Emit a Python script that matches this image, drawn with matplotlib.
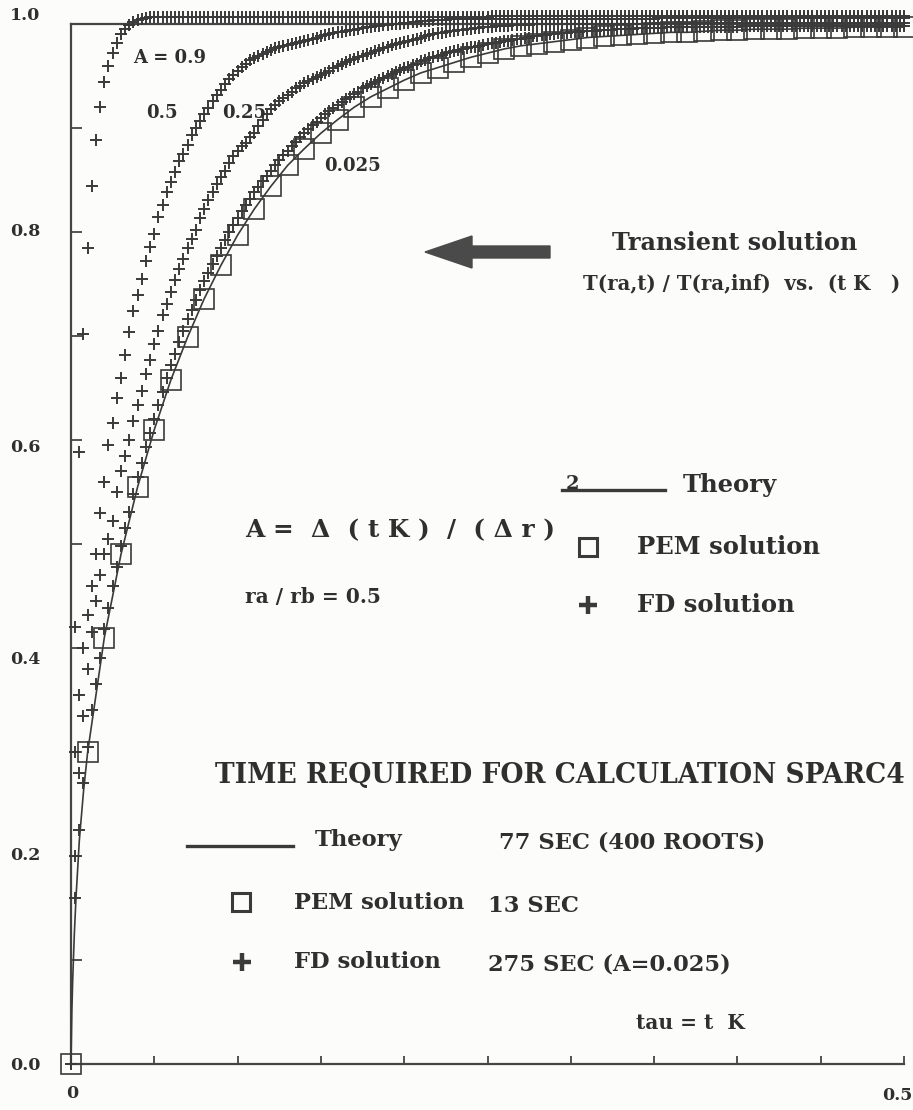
import matplotlib
matplotlib.use("Agg")
import matplotlib.pyplot as plt
import numpy as np
from matplotlib.lines import Line2D
from matplotlib.patches import Polygon

# ---------------- data ----------------
# PEM solution (squares) and Theory (line), tau = t*kappa
pem_tau = [0.00, 0.01, 0.02, 0.03, 0.04, 0.05, 0.06, 0.07, 0.08, 0.09,
           0.10, 0.11, 0.12, 0.13, 0.14, 0.15, 0.16, 0.17, 0.18, 0.19,
           0.20, 0.21, 0.22, 0.23, 0.24, 0.25, 0.26, 0.27, 0.28, 0.29,
           0.30, 0.31, 0.32, 0.33, 0.34, 0.35, 0.36, 0.37, 0.38, 0.39,
           0.40, 0.41, 0.42, 0.43, 0.44, 0.45, 0.46, 0.47, 0.48, 0.49, 0.50]
pem_val = [0.000, 0.300, 0.410, 0.490, 0.555, 0.610, 0.658, 0.699, 0.736, 0.768,
           0.797, 0.822, 0.844, 0.864, 0.880, 0.895, 0.908, 0.920, 0.930, 0.938,
           0.946, 0.953, 0.958, 0.963, 0.968, 0.972, 0.976, 0.979, 0.981, 0.983,
           0.985, 0.987, 0.988, 0.989, 0.990, 0.991, 0.992, 0.992, 0.993, 0.994,
           0.994, 0.995, 0.995, 0.995, 0.996, 0.996, 0.996, 0.997, 0.997, 0.997, 0.997]
theory_tau_early = [0.0, 0.0005, 0.001, 0.002, 0.003, 0.005, 0.0075]
theory_val_early = [0.0, 0.050, 0.080, 0.125, 0.160, 0.215, 0.262]

# FD solutions, output every 0.0025 in tau (values x 1000)
fd_tau = np.linspace(0.0, 0.5, 201)
fd_A09 = [0, 420, 588, 702, 785, 844, 888, 920, 944, 960, 972, 982, 990, 995, 999, 1002, 1004, 1005, 1006, 1007,
          1007, 1007, 1007, 1007, 1007, 1007, 1007, 1007, 1007, 1007, 1007, 1007, 1007, 1007, 1007, 1007, 1007, 1007, 1007, 1007,
          1007, 1007, 1007, 1007, 1007, 1007, 1007, 1007, 1007, 1007, 1007, 1007, 1007, 1007, 1007, 1007, 1007, 1007, 1007, 1007,
          1007, 1007, 1007, 1007, 1007, 1007, 1007, 1007, 1007, 1007, 1007, 1007, 1007, 1007, 1007, 1007, 1007, 1007, 1007, 1007,
          1007, 1007, 1007, 1007, 1007, 1007, 1007, 1007, 1007, 1007, 1007, 1007, 1007, 1007, 1007, 1007, 1007, 1007, 1007, 1007,
          1007, 1008, 1008, 1008, 1008, 1008, 1008, 1008, 1008, 1008, 1008, 1008, 1008, 1008, 1008, 1008, 1008, 1008, 1008, 1008,
          1008, 1008, 1008, 1008, 1008, 1008, 1008, 1008, 1008, 1008, 1008, 1008, 1008, 1008, 1008, 1008, 1008, 1008, 1008, 1008,
          1008, 1008, 1008, 1008, 1008, 1008, 1008, 1008, 1008, 1008, 1008, 1008, 1008, 1008, 1008, 1008, 1008, 1008, 1008, 1008,
          1008, 1008, 1008, 1008, 1008, 1008, 1008, 1008, 1008, 1008, 1008, 1008, 1008, 1008, 1008, 1008, 1008, 1008, 1008, 1008,
          1008, 1008, 1008, 1008, 1008, 1008, 1008, 1008, 1008, 1008, 1008, 1008, 1008, 1008, 1008, 1008, 1008, 1008, 1008, 1008,
          1008]
fd_A05 = [0, 300, 355, 400, 432, 460, 490, 530, 560, 595, 616, 640, 660, 682, 704, 724, 739, 755, 772, 786,
          798, 814, 826, 838, 848, 858, 868, 875, 884, 893, 900, 907, 913, 919, 926, 932, 937, 942, 947, 951,
          955, 959, 962, 965, 967, 969, 971, 973, 975, 977, 978, 979, 980, 981, 982, 983, 984, 985, 986, 987,
          988, 989, 990, 991, 992, 992, 993, 994, 994, 995, 996, 997, 997, 998, 998, 999, 999, 1000, 1000, 1000,
          1001, 1001, 1002, 1002, 1003, 1003, 1003, 1004, 1004, 1004, 1004, 1005, 1005, 1005, 1005, 1005, 1005, 1005, 1005, 1005,
          1005, 1005, 1005, 1005, 1005, 1005, 1005, 1005, 1005, 1005, 1005, 1005, 1005, 1005, 1005, 1005, 1005, 1005, 1005, 1005,
          1005, 1005, 1005, 1005, 1005, 1005, 1005, 1005, 1005, 1005, 1005, 1005, 1005, 1005, 1005, 1005, 1005, 1005, 1005, 1005,
          1005, 1006, 1006, 1006, 1006, 1006, 1006, 1006, 1006, 1006, 1006, 1006, 1006, 1006, 1006, 1006, 1006, 1006, 1006, 1006,
          1006, 1006, 1006, 1006, 1006, 1006, 1006, 1006, 1006, 1006, 1006, 1006, 1006, 1006, 1006, 1006, 1006, 1006, 1006, 1006,
          1006, 1006, 1006, 1006, 1006, 1006, 1006, 1006, 1006, 1006, 1006, 1006, 1006, 1006, 1006, 1006, 1006, 1006, 1006, 1006,
          1006]
fd_A025 = [0, 200, 280, 335, 380, 415, 445, 470, 490, 505, 522, 550, 570, 585, 600, 618, 634, 647, 663, 677,
           692, 705, 720, 731, 742, 754, 764, 774, 785, 793, 802, 813, 822, 831, 838, 846, 853, 859, 866, 873,
           878, 883, 886, 891, 895, 902, 908, 913, 918, 922, 926, 929, 932, 935, 938, 940, 943, 945, 947, 949,
           951, 953, 955, 958, 960, 962, 963, 965, 966, 968, 969, 971, 972, 974, 975, 977, 978, 980, 981, 982,
           983, 984, 985, 986, 987, 988, 989, 990, 991, 991, 992, 993, 993, 994, 994, 995, 995, 996, 996, 997,
           997, 997, 998, 998, 998, 998, 999, 999, 999, 999, 999, 1000, 1000, 1000, 1000, 1000, 1000, 1000, 1000, 1000,
           1000, 1000, 1000, 1000, 1000, 1000, 1000, 1000, 1000, 1000, 1000, 1000, 1000, 1000, 1000, 1000, 1000, 1000, 1000, 1000,
           1000, 1001, 1001, 1001, 1001, 1001, 1001, 1001, 1001, 1001, 1001, 1001, 1001, 1001, 1001, 1001, 1001, 1001, 1001, 1001,
           1001, 1001, 1001, 1001, 1001, 1001, 1001, 1001, 1001, 1001, 1001, 1001, 1001, 1001, 1001, 1001, 1001, 1001, 1001, 1001,
           1001, 1001, 1001, 1001, 1001, 1001, 1001, 1001, 1001, 1001, 1001, 1001, 1001, 1001, 1001, 1001, 1001, 1001, 1001, 1001,
           1001]
fd_A0025 = [0, 160, 225, 270, 305, 340, 365, 390, 418, 438, 460, 478, 498, 515, 531, 548, 564, 578, 593, 607,
            620, 634, 646, 660, 672, 683, 694, 705, 716, 725, 735, 744, 753, 761, 769, 777, 785, 792, 800, 807,
            813, 820, 826, 832, 838, 843, 849, 854, 859, 864, 869, 874, 878, 883, 887, 891, 895, 899, 903, 906,
            910, 913, 916, 919, 922, 925, 928, 930, 933, 935, 938, 940, 942, 944, 946, 948, 950, 952, 954, 956,
            958, 959, 961, 962, 964, 965, 967, 968, 969, 970, 972, 973, 974, 975, 976, 977, 978, 978, 979, 980,
            981, 982, 982, 983, 984, 984, 985, 986, 986, 987, 987, 988, 988, 989, 989, 990, 990, 991, 991, 991,
            992, 992, 992, 993, 993, 993, 993, 994, 994, 994, 994, 995, 995, 995, 995, 995, 996, 996, 996, 996,
            996, 996, 996, 997, 997, 997, 997, 997, 997, 997, 997, 997, 997, 997, 997, 997, 997, 997, 997, 997,
            997, 998, 998, 998, 998, 998, 998, 998, 998, 998, 998, 998, 998, 998, 998, 998, 998, 998, 998, 998,
            998, 998, 998, 998, 998, 998, 998, 998, 998, 998, 998, 998, 998, 998, 998, 998, 998, 998, 998, 998,
            998]

fd_series = [("0.9", fd_A09), ("0.5", fd_A05), ("0.25", fd_A025), ("0.025", fd_A0025)]

# ---------------- styling ----------------
W, H = 913, 1110
INK = "#3a3a3a"
TXT = "#2f2f2f"
BG = "#fcfcfb"
FONT = "DejaVu Serif"
KAPPA = "\u039a"

fig = plt.figure(figsize=(W / 100, H / 100), dpi=100, facecolor=BG)
renderer = fig.canvas.get_renderer()

def fx(px):
    return px / W

def fy(py):
    return 1 - py / H

ax = fig.add_axes([fx(71), fy(1064), fx(904) - fx(71), fy(24) - fy(1064)])
ax.set_facecolor("none")
ax.set_xlim(0, 0.5)
ax.set_ylim(0, 1.0)

# theory line
theory_tau = theory_tau_early + pem_tau[1:]
theory_val = theory_val_early + pem_val[1:]
ax.plot(theory_tau, theory_val, color=INK, lw=1.2, zorder=3, clip_on=False)

# PEM squares
ax.plot(pem_tau, pem_val, linestyle="none", marker="s", ms=14.5, mfc="none",
        mec=INK, mew=1.2, zorder=4, clip_on=False)

# FD crosses
for name, vals in fd_series:
    ax.plot(fd_tau, np.array(vals) / 1000.0, linestyle="none", marker="+",
            ms=8.5, mew=1.4, color=INK, zorder=5, clip_on=False)

# spines / ticks
for s in ["left", "bottom", "top"]:
    ax.spines[s].set_color("#454545")
    ax.spines[s].set_linewidth(1.6)
ax.spines["right"].set_visible(False)
ax.set_yticks(np.arange(0, 1.01, 0.1))
ax.set_xticks(np.arange(0, 0.501, 0.05))
ax.tick_params(axis="y", direction="in", length=8, width=1.3, color="#454545",
               labelleft=False, right=False)
ax.tick_params(axis="x", direction="in", length=6, width=1.3, color="#454545",
               labelbottom=False, top=False)

# ---------------- texts ----------------
def ftext(x0, y, s, size, x1=None, ha="left"):
    t = fig.text(fx(x0), fy(y), s, fontsize=size, fontfamily=FONT,
                 fontweight="bold", color=TXT, ha=ha, va="center")
    if x1 is not None:
        for _ in range(2):
            w = t.get_window_extent(renderer).width
            size = size * (x1 - x0) / w
            t.set_fontsize(size)
    return t

# y tick labels
TL = 12.5
ftext(40, 16, "1.0", TL, ha="right")
ftext(40, 232, "0.8", TL, ha="right")
ftext(40, 447, "0.6", TL, ha="right")
ftext(40, 660, "0.4", TL, ha="right")
ftext(40, 856, "0.2", TL, ha="right")
ftext(41, 1066, "0.0", TL, ha="right")
# x tick labels
ftext(72, 1093, "0", TL, ha="center")
ftext(912, 1095, "0.5", TL, ha="right")

# curve labels
CL = 13
ftext(133, 58, "A = 0.9", CL)
ftext(146, 113, "0.5", CL)
ftext(222, 113, "0.25", CL)
ftext(324, 166, "0.025", CL)

ftext(612, 243, "Transient solution", 17.2)
ftext(583, 283, "T(ra,t) / T(ra,inf)  vs.  (t " + KAPPA + "   )", 14, x1=900)

LG = 17.5
ftext(683, 485, "Theory", LG)
ftext(637, 547, "PEM solution", LG)
ftext(637, 605, "FD solution", LG)

ftext(245, 530, "A =  \u0394  ( t " + KAPPA + " )  /  ( \u0394 r )", 15, x1=555)
ftext(566, 484, "2", 14)
ftext(245, 597, "ra / rb = 0.5", 14.5)

BL = 16.3
ftext(215, 775, "TIME REQUIRED FOR CALCULATION SPARC4", 16, x1=907)
ftext(315, 840, "Theory", BL)
ftext(499, 843, "77 SEC (400 ROOTS)", BL)
ftext(294, 903, "PEM solution", BL)
ftext(488, 906, "13 SEC", BL)
ftext(294, 962, "FD solution", BL)
ftext(488, 965, "275 SEC (A=0.025)", BL)
ftext(636, 1023, "tau = t  " + KAPPA, 14.5)

# legend glyphs
def fline(x0, x1, y, lw):
    fig.add_artist(Line2D([fx(x0), fx(x1)], [fy(y), fy(y)], transform=fig.transFigure,
                          color=INK, lw=lw))

def fmark(x, y, m, ms, mew):
    fig.add_artist(Line2D([fx(x)], [fy(y)], transform=fig.transFigure, linestyle="none",
                          marker=m, ms=ms, mew=mew, mfc="none", mec=INK))

fline(562, 665, 490, 2.4)
fmark(588, 547, "s", 12.5, 2.2)
fmark(588, 605, "+", 13, 3.2)
fline(187, 293, 846, 2.4)
fmark(241, 902, "s", 13, 2.2)
fmark(242, 962, "+", 13, 3.2)

# arrow
arrow_px = [(425, 252), (472, 236), (472, 246), (550, 246), (550, 258), (472, 258), (472, 268)]
fig.add_artist(Polygon([(fx(x), fy(y)) for x, y in arrow_px], closed=True,
                       transform=fig.transFigure, facecolor="#4a4a4a", edgecolor="#4a4a4a"))

fig.savefig("out.png", dpi=100, facecolor=BG)
